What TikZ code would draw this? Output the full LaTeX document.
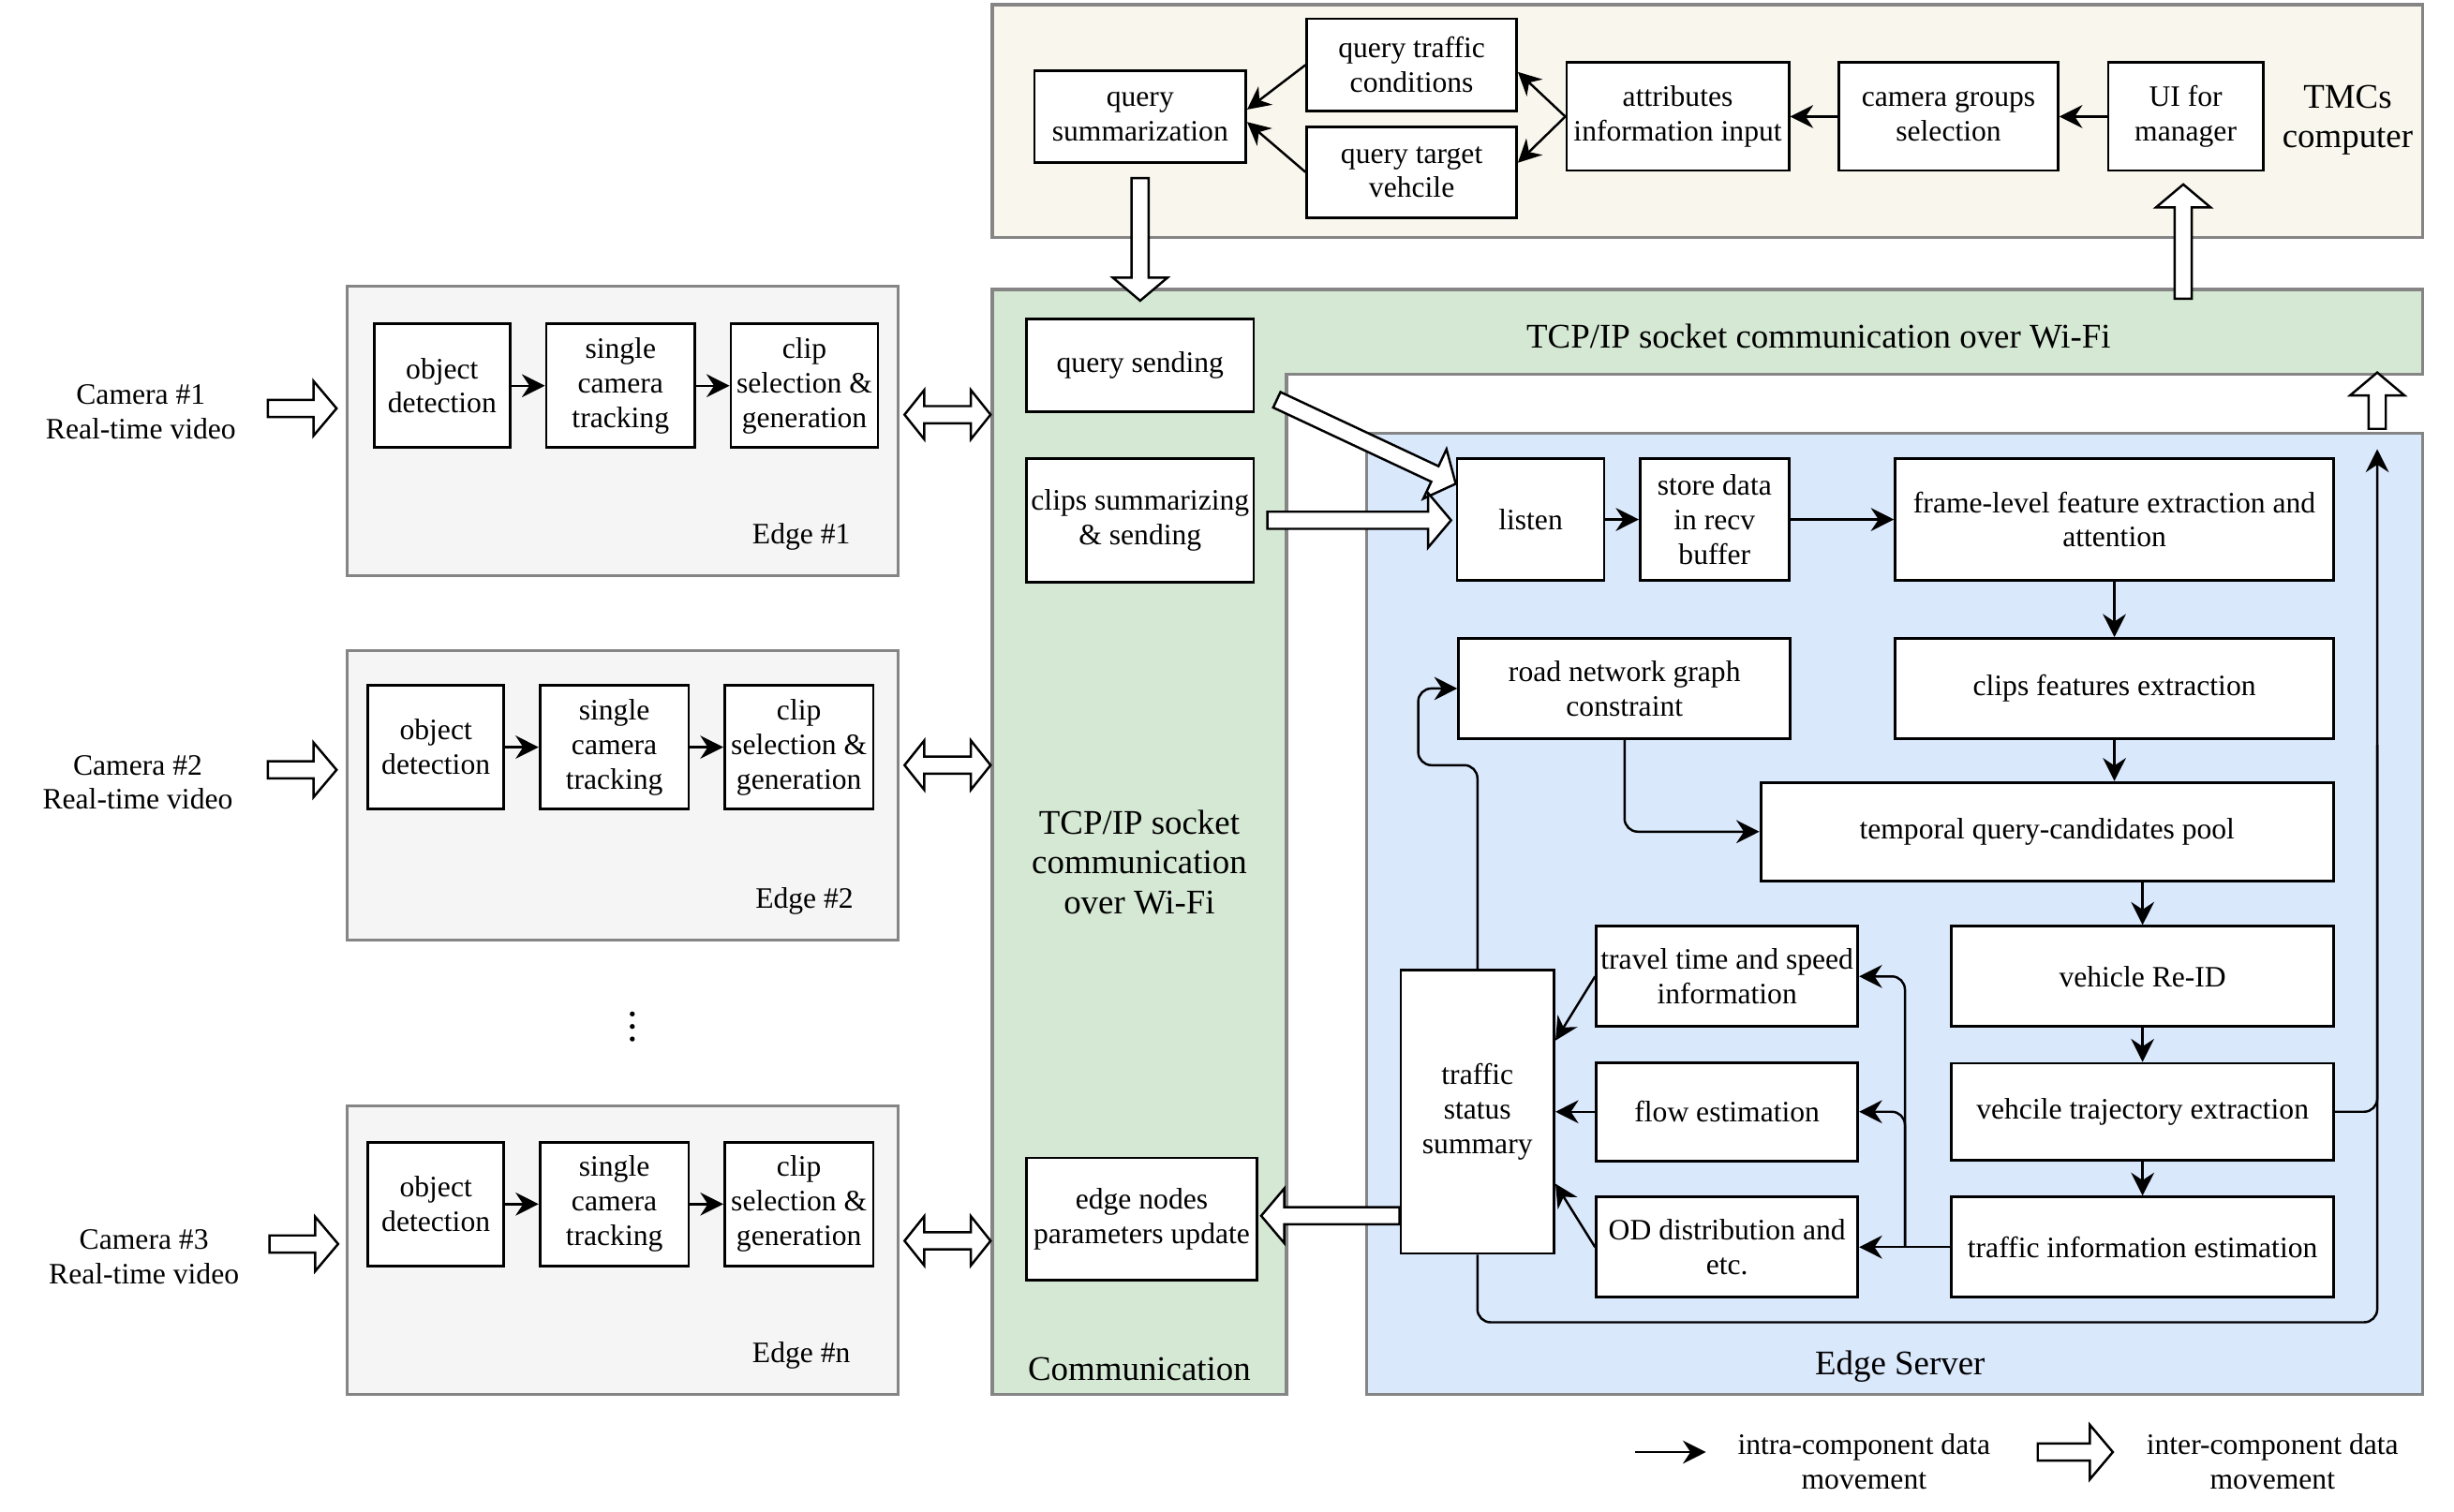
\documentclass[tikz,border=0pt]{standalone}
\usepackage{fontspec}
\setmainfont{Liberation Serif}
\usetikzlibrary{arrows.meta,calc}

\definecolor{tmcfill}{HTML}{F9F7ED}
\definecolor{commfill}{HTML}{D5E8D4}
\definecolor{edgefill}{HTML}{F5F5F5}
\definecolor{serverfill}{HTML}{DAE8FC}
\definecolor{framegray}{HTML}{858585}

\newcommand{\unitpx}{0.016703cm}
\newcommand{\bigfont}{\fontsize{10.5}{12}\selectfont}

\tikzset{
	box/.style 2 args={draw, fill=white, line width=0.8pt, align=center, inner sep=1pt,
		minimum width=#1*\unitpx, minimum height=#2*\unitpx},
	area/.style 2 args={draw=framegray, line width=0.9pt,
		minimum width=#1*\unitpx, minimum height=#2*\unitpx},
	conn/.style={line width=0.7pt, -{Stealth[length=7pt,width=7pt,inset=2.3pt]}},
	fat/.style={draw, fill=white, line width=0.7pt,
		to path={let \p1=(\tikztostart), \p2=(\tikztotarget),
			\n1={atan2(\y2-\y1,\x2-\x1)}, \n2={veclen(\x2-\x1,\y2-\y1)} in
			[shift={(\p1)}, rotate=\n1]
			(0pt,-2.6pt) -- ({\n2-7pt},-2.6pt) -- ({\n2-7pt},-8.3pt) -- ({\n2},0pt)
			-- ({\n2-7pt},8.3pt) -- ({\n2-7pt},2.6pt) -- (0pt,2.6pt) -- cycle}},
	fatboth/.style={draw, fill=white, line width=0.7pt,
		to path={let \p1=(\tikztostart), \p2=(\tikztotarget),
			\n1={atan2(\y2-\y1,\x2-\x1)}, \n2={veclen(\x2-\x1,\y2-\y1)} in
			[shift={(\p1)}, rotate=\n1]
			(0pt,0pt) -- (6pt,-7.5pt) -- (6pt,-2.6pt) -- ({\n2-6pt},-2.6pt) -- ({\n2-6pt},-7.5pt)
			-- ({\n2},0pt) -- ({\n2-6pt},7.5pt) -- ({\n2-6pt},2.6pt) -- (6pt,2.6pt) -- (6pt,7.5pt) -- cycle}},
}

\begin{document}
\begin{tikzpicture}[x=\unitpx, y=-\unitpx, font=\fontsize{9}{10.5}\selectfont]
	\useasboundingbox (0,0) rectangle (1568,966);

	% TMC computer
	\node[area={914}{149}, fill=tmcfill] (tmc) at (1091,77.5) {};
	\node[box={135}{59}] (qsum) at (728.5,74.5) {query\\summarization};
	\node[box={134}{59}] (qtc) at (902,41.5) {query traffic\\conditions};
	\node[box={134}{58}] (qtv) at (902,110) {query target\\vehcile};
	\node[box={142}{69}] (attr) at (1072,74.5) {attributes\\information input};
	\node[box={140}{69}] (cgs) at (1245,74.5) {camera groups\\selection};
	\node[box={99}{69}] (ui) at (1396.5,74.5) {UI for\\manager};
	\node[font=\bigfont, align=center] (tmclabel) at (1500,77) {TMCs\\computer};

	\draw[conn] (ui) -- (cgs);
	\draw[conn] (cgs) -- (attr);
	\draw[conn] (attr.west) -- ($(qtc.east)+(0,4.5)$);
	\draw[conn] (attr.west) -- ($(qtv.east)+(0,-6)$);
	\draw[conn] (qtc.west) -- ($(qsum.east)+(0,-4.5)$);
	\draw[conn] (qtv.west) -- ($(qsum.east)+(0,3.5)$);

	% communication
	\draw[draw=framegray, fill=commfill, line width=0.9pt]
		(634,185) -- (1548,185) -- (1548,239) -- (822,239) -- (822,891) -- (634,891) -- cycle;
	\node[font=\bigfont] (wifitop) at (1162,215) {TCP/IP socket communication over Wi-Fi};
	\node[font=\bigfont, align=center] (wifileft) at (728,551) {TCP/IP socket\\communication\\over Wi-Fi};
	\node[font=\bigfont] (commlabel) at (728,875) {Communication};
	\node[box={145}{59}] (qsend) at (728.5,233.5) {query sending};
	\node[box={145}{79}] (clips) at (728.5,332.5) {clips summarizing\\\& sending};
	\node[box={147}{78}] (enpu) at (729.5,779) {edge nodes\\parameters update};

	% edge server
	\node[area={675}{614}, fill=serverfill] (server) at (1210.5,584) {};
	\node[font=\bigfont] (serverlabel) at (1214,873) {Edge Server};
	\node[box={94}{78}] (listen) at (978,332) {listen};
	\node[box={95}{78}] (store) at (1095.5,332) {store data\\in recv\\buffer};
	\node[box={280}{78}] (frame) at (1351,332) {frame-level feature extraction and\\attention};
	\node[box={212}{64}] (road) at (1038,440) {road network graph\\constraint};
	\node[box={280}{64}] (cfe) at (1351,440) {clips features extraction};
	\node[box={366}{63}] (pool) at (1308,531.5) {temporal query-candidates pool};
	\node[box={167}{64}] (travel) at (1103.5,624) {travel time and speed\\information};
	\node[box={244}{64}] (reid) at (1369,624) {vehicle Re-ID};
	\node[box={98}{181}] (tss) at (944,710.5) {traffic\\status\\summary};
	\node[box={167}{63}] (flow) at (1103.5,710.5) {flow estimation};
	\node[box={244}{62}] (traj) at (1369,710.5) {vehcile trajectory extraction};
	\node[box={167}{64}] (od) at (1103.5,797) {OD distribution and\\etc.};
	\node[box={244}{64}] (tie) at (1369,797) {traffic information estimation};

	\draw[conn] (listen) -- (store);
	\draw[conn] (store) -- (frame);
	\draw[conn] (frame) -- (cfe);
	\draw[conn] (cfe.south) -- (cfe.south |- pool.north);
	\draw[conn] (reid.north |- pool.south) -- (reid.north);
	\draw[conn] (reid) -- (traj);
	\draw[conn] (traj) -- (tie);
	\draw[conn, rounded corners=4pt] (road.south) |- (pool.west);
	\draw[conn, rounded corners=4pt] (tss.north) |- ($(road.west)+(-25,49)$) |- (road.west);
	\draw[conn, rounded corners=4pt] (tss.south) |- ($(server.north east)+(-30,569)$)
		-- ($(server.north east)+(-30,11)$);
	\draw[line width=0.7pt, rounded corners=4pt] (traj.east) -| ($(server.north east)+(-30,200)$);
	\draw[conn] (tie.west) -- (od.east);
	\draw[conn, rounded corners=4pt] ($(tie.west)+(-29,0)$) |- (travel.east);
	\draw[conn, rounded corners=4pt] ($(tie.west)+(-29,0)$) |- (flow.east);
	\draw[conn] (travel.west) -- ($(tss.east)+(0,-45.5)$);
	\draw[conn] (flow) -- (tss);
	\draw[conn] (od.west) -- ($(tss.east)+(0,46)$);

	% edges
	\node[area={352}{185}, fill=edgefill] (edge1) at (398,275.5) {};
	\node[box={87}{79}] (det1) at (282.5,246.5) {object\\detection};
	\node[box={95}{79}] (trk1) at (396.5,246.5) {single\\camera\\tracking};
	\node[box={94}{79}] (clip1) at (514,246.5) {clip\\selection \&\\generation};
	\node (edgelabel1) at (512,343) {Edge \#1};
	\node[align=center] (cam1) at (90,263) {Camera \#1\\Real-time video};
	\draw[conn] (det1) -- (trk1);
	\draw[conn] (trk1) -- (clip1);

	\node[area={352}{185}, fill=edgefill] (edge2) at (398,508.5) {};
	\node[box={87}{79}] (det2) at (278.5,477.5) {object\\detection};
	\node[box={95}{79}] (trk2) at (392.5,477.5) {single\\camera\\tracking};
	\node[box={95}{79}] (clip2) at (510.5,477.5) {clip\\selection \&\\generation};
	\node (edgelabel2) at (514,576) {Edge \#2};
	\node[align=center] (cam2) at (88,500) {Camera \#2\\Real-time video};
	\draw[conn] (det2) -- (trk2);
	\draw[conn] (trk2) -- (clip2);

	% more edges
	\fill (404,648) circle (1.6);
	\fill (404,656) circle (1.6);
	\fill (404,664) circle (1.6);

	\node[area={352}{184}, fill=edgefill] (edgen) at (398,799) {};
	\node[box={87}{79}] (det3) at (278.5,769.5) {object\\detection};
	\node[box={95}{79}] (trk3) at (392.5,769.5) {single\\camera\\tracking};
	\node[box={95}{79}] (clip3) at (510.5,769.5) {clip\\selection \&\\generation};
	\node (edgelabel3) at (512,866) {Edge \#n};
	\node[align=center] (cam3) at (92,803) {Camera \#3\\Real-time video};
	\draw[conn] (det3) -- (trk3);
	\draw[conn] (trk3) -- (clip3);

	% inter-component movement
	\draw[fat] ($(cam1.east)+(13,-2)$) to ($(edge1.west |- cam1.east)+(-6,-2)$);
	\draw[fat] ($(cam2.east)+(15,-8)$) to ($(edge2.west |- cam2.east)+(-6,-8)$);
	\draw[fat] ($(cam3.east)+(12,-8)$) to ($(edgen.west |- cam3.east)+(-5,-8)$);
	\draw[fatboth] ($(edge1.east)+(3,-10.5)$) to ($(edge1.east)+(58,-10.5)$);
	\draw[fatboth] ($(edge2.east)+(3,-19.5)$) to ($(edge2.east)+(58,-19.5)$);
	\draw[fatboth] ($(edgen.east)+(3,-6)$) to ($(edgen.east)+(58,-6)$);
	\draw[fat] ($(qsum.south)+(0,9)$) to ($(qsend.north)+(0,-11)$);
	\draw[fat] ($(ui.south |- tmc.south)+(-1.5,38)$) to ($(ui.south)+(-1.5,8)$);
	\draw[fat] ($(server.north east)+(-30,-2)$) to ($(server.north east)+(-30,-38)$);
	\draw[fat] ($(qsend.east)+(14,22)$) to ($(listen.north west)+(0,17)$);
	\draw[fat] ($(clips.east)+(8,0)$) to ($(listen.west |- clips.east)+(-3,0)$);
	\draw[fat] ($(tss.west)+(0,66.5)$) to ($(enpu.east)+(2,-2)$);

	% legend
	\coordinate (legA) at (1045,928);
	\coordinate (legB) at (1090,928);
	\draw[conn] (legA) -- (legB);
	\node[align=center] (legintra) at (1191,934) {intra-component data\\movement};
	\coordinate (legC) at (1302,928);
	\coordinate (legD) at (1350,928);
	\draw[fat] (legC) to (legD);
	\node[align=center] (leginter) at (1452,934) {inter-component data\\movement};
\end{tikzpicture}
\end{document}
